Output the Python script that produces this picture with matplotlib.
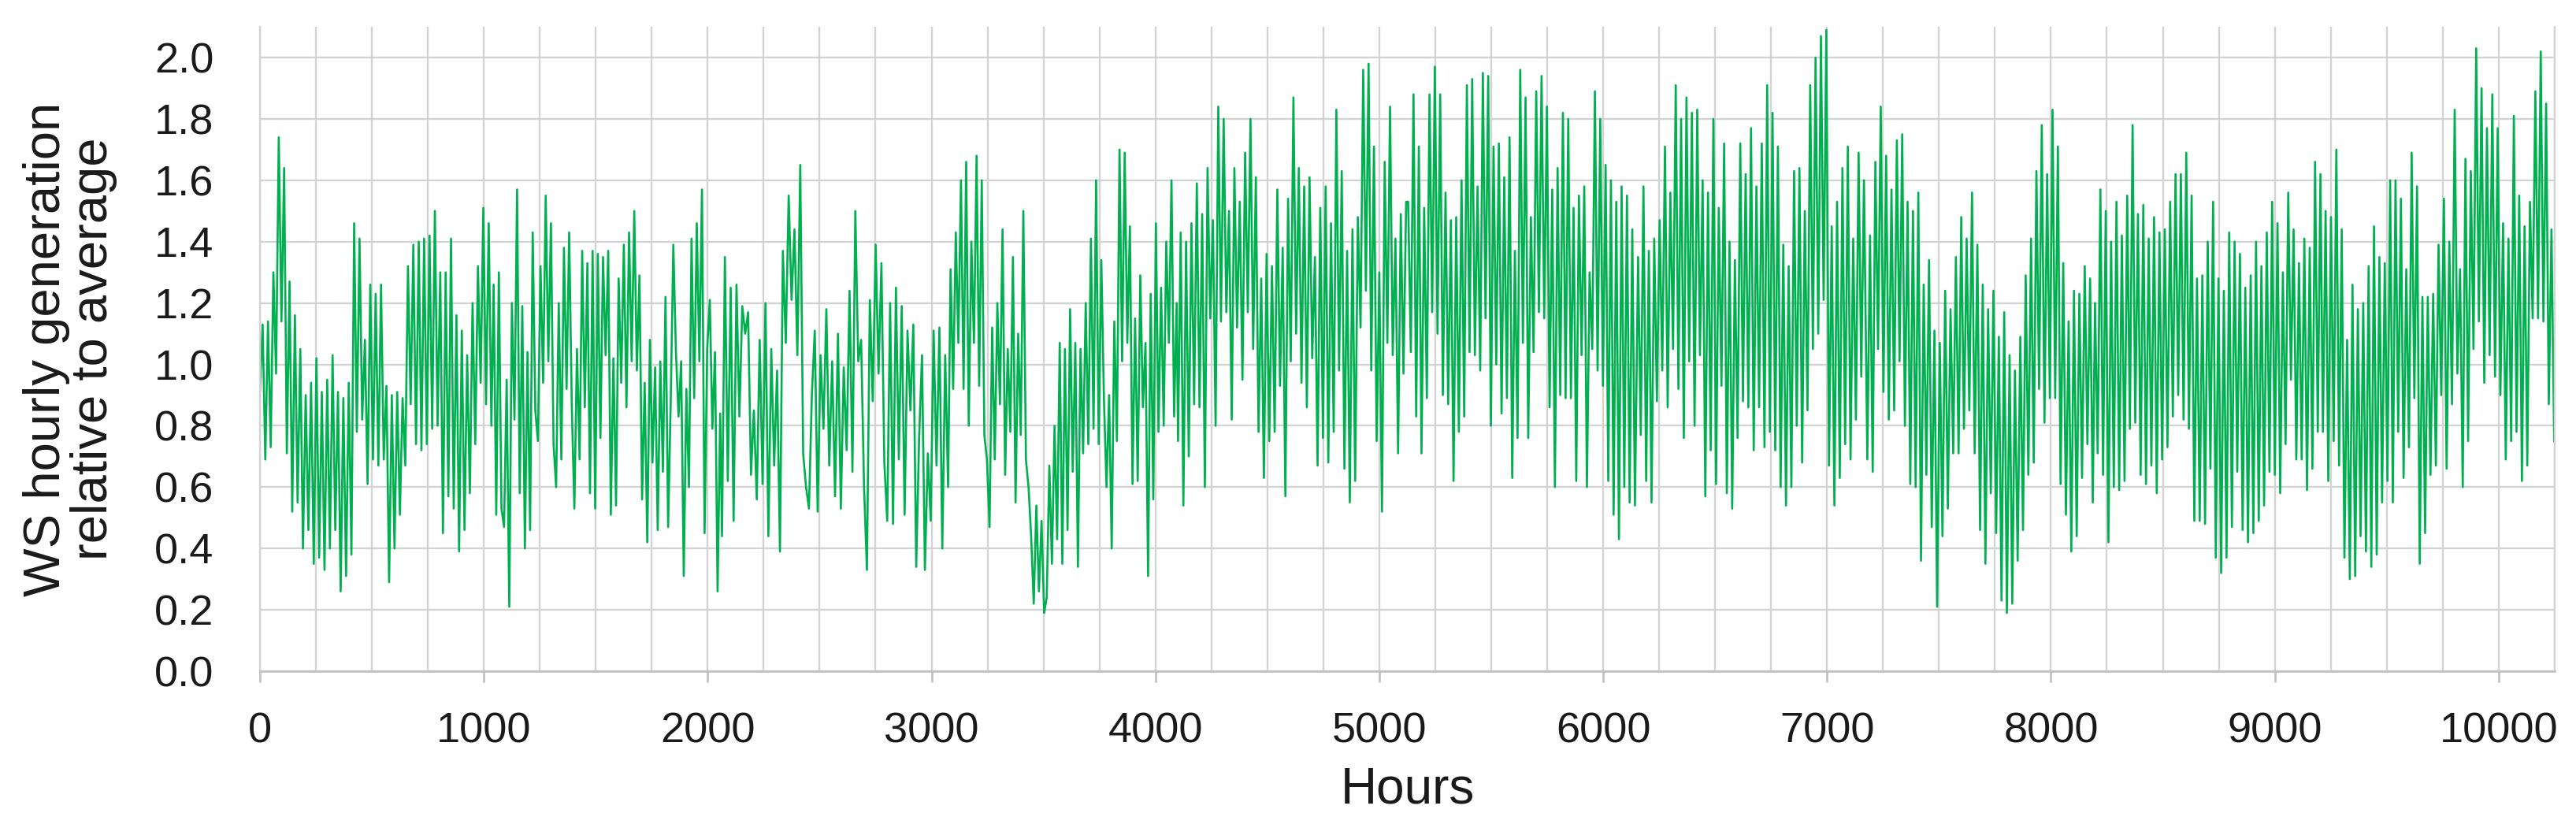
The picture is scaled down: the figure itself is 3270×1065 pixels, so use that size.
import numpy as np
import matplotlib
matplotlib.use("Agg")
import matplotlib.pyplot as plt
from matplotlib.ticker import MultipleLocator, FormatStrFormatter

plt.rcParams['font.family'] = ['Liberation Sans', 'DejaVu Sans']

# values, segment by segment (start hour, end hour, values)
seg1_hours = (0, 1034)
seg1 = [0.915, 1.13, 0.69, 1.14, 0.73, 1.30, 0.97, 1.74, 1.14, 1.64, 0.71, 1.27, 0.52, 1.16, 0.55,
        1.05, 0.40, 0.90, 0.46, 0.94, 0.35, 1.02, 0.37, 0.91, 0.33, 0.95, 0.40, 1.03, 0.46, 0.91,
        0.26, 0.89, 0.31, 0.94, 0.38, 1.46, 0.78, 1.41, 0.82, 1.08, 0.61, 1.26, 0.69, 1.23, 0.67,
        1.26, 0.69, 0.93, 0.29, 0.90, 0.40, 0.91, 0.51, 0.89, 0.67, 1.32, 0.87, 1.39, 0.74, 1.40,
        0.72, 1.41, 0.74, 1.42, 0.79, 1.50, 0.80, 1.30, 0.45, 1.30, 0.57, 1.41, 0.53, 1.16, 0.39,
        1.11, 0.46, 1.03, 0.58, 1.20, 0.74, 1.32, 0.94, 1.51, 0.87, 1.46, 0.80]

seg2_hours = (1044, 2056)
seg2 = [1.26, 0.51, 1.30, 0.53, 0.47, 0.95, 0.21, 1.20, 0.82, 1.57, 0.58, 1.19, 0.40, 1.04, 0.46,
        1.43, 0.85, 0.75, 1.32, 0.94, 1.55, 1.01, 1.46, 0.74, 0.60, 1.20, 0.69, 1.38, 0.92, 1.43,
        0.87, 0.53, 1.05, 0.69, 1.37, 0.86, 1.33, 0.58, 1.37, 0.53, 1.36, 0.76, 1.35, 1.03, 1.37,
        0.51, 1.02, 0.54, 1.28, 0.94, 1.39, 0.86, 1.43, 1.01, 1.50, 0.98, 1.29, 0.56, 0.94, 0.42,
        1.08, 0.68, 0.99, 0.46, 1.01, 0.65, 1.22, 0.47, 0.88, 1.39, 1.04, 0.83, 1.01, 0.31, 0.92,
        0.60, 1.41, 0.89, 1.46, 1.01, 1.57, 0.45, 1.05, 1.21, 0.79, 1.04, 0.26, 0.84]

seg3_hours = (2064, 3074)
seg3 = [0.44, 1.35, 0.62, 1.25, 0.49, 1.26, 0.83, 1.19, 1.10, 1.17, 0.64, 0.85, 0.56, 1.08, 0.61,
        1.20, 0.44, 1.05, 0.67, 0.98, 0.39, 1.37, 1.07, 1.55, 1.21, 1.44, 1.03, 1.65, 0.71, 0.60,
        0.53, 0.90, 1.11, 0.52, 1.03, 0.79, 1.18, 0.67, 1.01, 0.57, 1.10, 0.53, 0.99, 0.72, 1.24,
        0.65, 1.50, 1.01, 1.08, 0.60, 0.33, 1.21, 0.88, 1.39, 0.97, 1.33, 0.68, 0.49, 1.20, 0.48,
        1.25, 0.69, 1.19, 0.51, 1.11, 0.85, 1.13, 0.34, 0.76, 1.03, 0.33, 0.71, 0.49, 1.11, 0.67,
        1.12, 0.40, 1.03, 0.60]

seg4_hours = (3085, 4095)
seg4 = [1.31, 0.92, 1.43, 1.07, 1.60, 0.92, 1.66, 0.80, 1.40, 1.07, 1.68, 0.93, 1.60, 0.77, 0.69,
        0.47, 1.12, 0.69, 1.20, 0.87, 1.44, 0.64, 1.05, 0.78, 1.35, 0.55, 1.10, 0.77, 1.50, 0.69,
        0.60, 0.44, 0.22, 0.54, 0.26, 0.49, 0.19, 0.24, 0.67, 0.35, 0.80, 0.43, 1.07, 0.35, 1.05,
        0.46, 1.18, 0.65, 1.07, 0.34, 1.05, 0.71, 1.20, 0.74, 1.41, 0.79, 1.60, 0.74, 1.34, 0.89,
        0.60, 0.90, 0.40, 1.14, 0.75, 1.70, 1.01, 1.69, 1.07, 1.45, 0.61, 1.15, 0.62, 1.29, 0.86,
        1.07, 0.31, 1.23, 0.56, 1.46, 0.78, 1.25, 0.80, 1.40, 1.07, 1.60, 0.83, 1.20]

seg5_hours = (4101, 5120)
seg5 = [0.75, 1.43, 0.54, 1.40, 0.70, 1.46, 0.87, 1.59, 0.86, 1.49, 0.60, 1.64, 1.15, 1.47, 0.80,
        1.84, 1.14, 1.80, 1.17, 1.50, 0.82, 1.64, 1.12, 1.53, 0.95, 1.69, 1.17, 1.80, 1.05, 1.61,
        0.78, 1.28, 0.63, 1.36, 0.75, 1.32, 0.78, 1.57, 0.93, 1.38, 0.57, 1.54, 1.01, 1.87, 1.10,
        1.64, 0.94, 1.58, 0.86, 1.61, 1.02, 1.35, 0.67, 1.51, 0.76, 1.58, 0.68, 1.46, 0.78, 1.83,
        0.98, 1.63, 0.66, 1.37, 0.55, 1.44, 0.62, 1.48, 1.12, 1.96, 1.24, 1.98, 0.98, 1.71, 0.75,
        1.30, 0.52, 1.66, 1.07, 1.84, 1.03, 1.41, 0.71, 1.49, 0.97, 1.53]

seg6_hours = (5129, 6142)
seg6 = [1.53, 1.04, 1.88, 0.83, 1.71, 0.71, 1.51, 0.89, 1.88, 1.17, 1.97, 1.10, 1.88, 0.90, 1.56,
        0.87, 1.47, 0.62, 1.48, 0.78, 1.60, 0.83, 1.91, 1.04, 1.93, 1.03, 1.58, 0.98, 1.95, 1.15,
        1.94, 0.80, 1.71, 1.00, 1.72, 0.84, 1.61, 0.89, 1.74, 0.63, 1.37, 0.76, 1.96, 1.07, 1.87,
        0.76, 1.48, 1.04, 1.89, 1.17, 1.94, 1.15, 1.84, 0.86, 1.57, 0.60, 1.64, 0.90, 1.82, 0.89,
        1.80, 0.89, 1.51, 0.62, 1.55, 1.03, 1.58, 0.60, 1.30, 1.05, 1.89, 0.98, 1.80, 0.93, 1.65,
        0.62, 1.60, 0.51, 1.53, 0.43, 1.58, 0.60, 1.55, 0.55, 1.44, 0.54]

seg7_hours = (6156, 7165)
seg7 = [1.35, 0.77, 1.58, 0.62, 1.37, 0.55, 1.41, 0.88, 1.47, 0.98, 1.71, 0.86, 1.56, 1.05, 1.91,
        0.92, 1.80, 0.76, 1.87, 1.01, 1.82, 0.80, 1.83, 1.03, 1.60, 0.57, 1.56, 0.72, 1.80, 0.61,
        1.51, 0.93, 1.72, 0.58, 1.40, 0.53, 1.34, 0.76, 1.72, 0.88, 1.62, 0.86, 1.77, 0.72, 1.58,
        0.86, 1.72, 0.73, 1.91, 0.78, 1.82, 0.72, 1.71, 0.60, 1.39, 0.54, 1.32, 0.60, 1.63, 0.80,
        1.64, 0.68, 1.50, 0.85, 1.91, 1.05, 2.00, 1.10, 2.07, 1.21, 2.09, 0.67, 1.45, 0.54, 1.53,
        0.63, 1.64, 0.74, 1.71, 0.69, 1.41, 0.82, 1.69, 0.96, 1.60]

seg8_hours = (7180, 8187)
seg8 = [0.69, 1.42, 0.65, 1.66, 1.05, 1.84, 0.91, 1.68, 0.82, 1.57, 0.85, 1.73, 1.01, 1.75, 0.80,
        1.53, 0.61, 1.50, 0.60, 1.56, 0.36, 1.26, 0.64, 1.34, 0.47, 1.11, 0.21, 1.07, 0.44, 1.24,
        0.53, 1.18, 0.71, 1.35, 0.71, 1.48, 0.79, 1.41, 0.85, 1.56, 0.71, 1.39, 0.46, 1.26, 0.35,
        1.18, 0.58, 1.24, 0.45, 1.09, 0.23, 1.17, 0.19, 1.03, 0.22, 0.98, 0.36, 1.09, 0.46, 1.29,
        0.64, 1.41, 0.68, 1.63, 0.92, 1.78, 0.81, 1.62, 0.89, 1.83, 0.89, 1.71, 0.61, 1.33, 0.51,
        1.14, 0.39, 1.24, 0.44, 1.23, 0.63, 1.32, 0.74, 1.28, 0.55]

seg9_hours = (8197, 9204)
seg9 = [1.20, 0.71, 1.57, 0.64, 1.50, 0.42, 1.40, 0.60, 1.53, 0.59, 1.42, 0.62, 1.55, 0.79, 1.78,
        0.81, 1.49, 0.64, 1.52, 0.61, 1.41, 0.67, 1.48, 0.58, 1.43, 0.69, 1.44, 0.73, 1.53, 0.83,
        1.62, 0.90, 1.62, 0.82, 1.69, 0.79, 1.55, 0.49, 1.28, 0.49, 1.29, 0.48, 1.40, 0.66, 1.53,
        0.37, 1.28, 0.32, 1.24, 0.37, 1.43, 0.47, 1.40, 0.65, 1.36, 0.46, 1.25, 0.42, 1.29, 0.45,
        1.40, 0.49, 1.32, 0.54, 1.43, 0.65, 1.53, 0.64, 1.46, 0.58, 1.30, 0.74, 1.56, 0.95, 1.44,
        0.69, 1.33, 0.69, 1.41, 0.59, 1.38, 0.66, 1.66, 0.78, 1.62]

seg10_hours = (9215, 10248)
seg10 = [0.78, 1.50, 0.62, 1.48, 0.75, 1.70, 0.67, 1.44, 0.37, 1.08, 0.30, 1.26, 0.31, 1.18, 0.44,
         1.20, 0.39, 1.32, 0.34, 1.45, 0.38, 1.35, 0.55, 1.33, 0.62, 1.60, 0.55, 1.60, 0.78, 1.54,
         0.63, 1.31, 0.73, 1.69, 0.89, 1.58, 0.35, 1.22, 0.45, 1.22, 0.64, 1.23, 0.67, 1.39, 0.90,
         1.54, 0.66, 1.40, 0.87, 1.83, 0.97, 1.31, 0.60, 1.67, 0.75, 1.63, 1.05, 2.03, 1.14, 1.90,
         0.94, 1.77, 1.03, 1.88, 0.96, 1.77, 0.90, 1.46, 0.69, 1.41, 0.75, 1.81, 0.78, 1.55, 0.62,
         1.45, 0.67, 1.53, 1.15, 1.89, 1.15, 2.02, 1.14, 1.85, 0.87, 1.44, 0.75]

segments = [(seg1_hours, seg1), (seg2_hours, seg2), (seg3_hours, seg3), (seg4_hours, seg4),
            (seg5_hours, seg5), (seg6_hours, seg6), (seg7_hours, seg7), (seg8_hours, seg8),
            (seg9_hours, seg9), (seg10_hours, seg10)]

hours = np.concatenate([np.linspace(h[0], h[1], len(v)) for h, v in segments])
values = np.concatenate([np.array(v) for h, v in segments])

grid_col = '#D3D3D3'

fig = plt.figure(figsize=(32.7, 10.65), dpi=100)
ax = fig.add_axes([0.1009, 0.2, 0.8908, 0.768])

ax.plot(hours, values, color='#00B050', linewidth=1.9)

ax.set_xlim(0, 10250)
ax.set_ylim(0, 2.1)
ax.xaxis.set_major_locator(MultipleLocator(1000))
ax.xaxis.set_minor_locator(MultipleLocator(250))
ax.set_yticks(np.arange(0, 2.01, 0.2))
ax.yaxis.set_major_formatter(FormatStrFormatter('%.1f'))

ax.set_axisbelow(True)
ax.grid(True, which='both', axis='x', color=grid_col, linewidth=1.7)
ax.grid(True, which='major', axis='y', color=grid_col, linewidth=1.7)

ax.spines['top'].set_visible(False)
for side in ['left', 'right']:
    ax.spines[side].set_color(grid_col)
    ax.spines[side].set_linewidth(1.7)
ax.spines['bottom'].set_color('#BFBFBF')
ax.spines['bottom'].set_linewidth(1.9)

ax.tick_params(axis='x', which='major', length=10, width=1.9, color='#BFBFBF',
               labelsize=39, pad=27, labelcolor='#1a1a1a')
ax.tick_params(axis='x', which='minor', length=0)
ax.tick_params(axis='y', length=0, labelsize=39, pad=42, labelcolor='#1a1a1a')

ax.set_xlabel('Hours', fontsize=46, color='#1a1a1a')
ax.xaxis.set_label_coords(0.5, -0.147)
ax.set_ylabel('WS hourly generation\nrelative to average', fontsize=47, color='#1a1a1a',
              linespacing=1.0)
ax.yaxis.set_label_coords(-0.062, 0.5)

fig.savefig('out.png', dpi=100)
